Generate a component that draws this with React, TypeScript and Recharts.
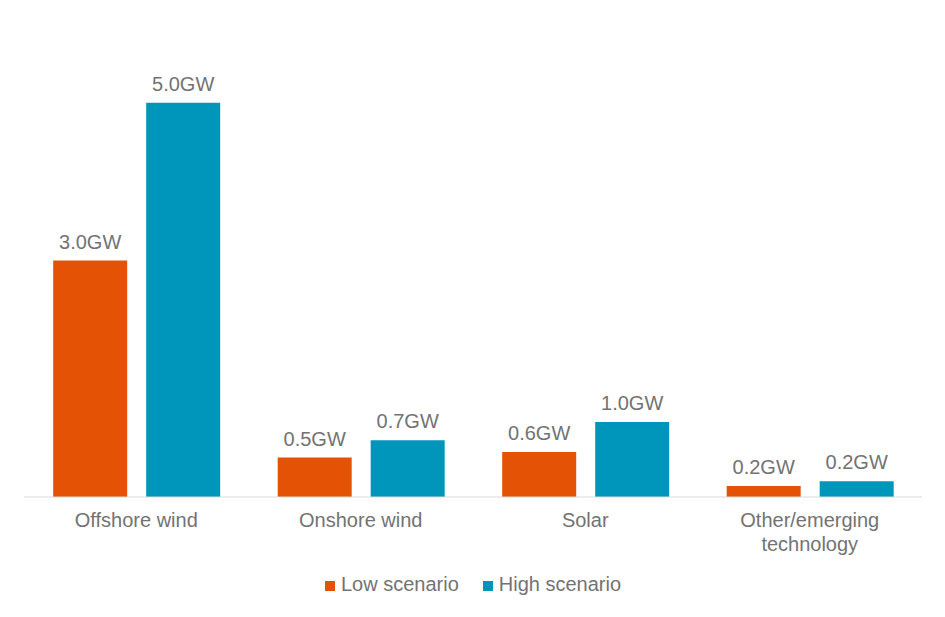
import { BarChart, Bar, XAxis, YAxis, Legend, LabelList } from "recharts";

const categories = ["Offshore wind", "Onshore wind", "Solar", "Other/emerging\ntechnology"];
const lowValues = [3.0, 0.5, 0.57, 0.14];
const highValues = [5.0, 0.72, 0.95, 0.2];
const lowLabels = ["3.0GW", "0.5GW", "0.6GW", "0.2GW"];
const highLabels = ["5.0GW", "0.7GW", "1.0GW", "0.2GW"];
const seriesOrder = ["low", "high"];

const data = categories.map((name, i) => ({
  name,
  low: lowValues[i],
  high: highValues[i],
  lowLabel: lowLabels[i],
  highLabel: highLabels[i],
}));

const TEXT = "#737373";
const FONT = "'Liberation Sans', Arial, sans-serif";
const FS = 20;

function CategoryTick({ x, y, payload }: any) {
  const lines = String(payload.value).split("\n");
  return (
    <text x={x} y={y} textAnchor="middle" fill={TEXT} fontSize={FS} fontFamily={FONT}>
      {lines.map((l, i) => (
        <tspan key={i} x={x} dy={i === 0 ? 22 : 24}>
          {l}
        </tspan>
      ))}
    </text>
  );
}

export default function App() {
  return (
    <div style={{ position: "absolute", left: 0, top: 0, background: "#fff" }}>
      <BarChart
        width={945}
        height={617}
        data={data}
        margin={{ top: 24, right: 23, left: 24, bottom: 0 }}
        barCategoryGap="13%"
        barGap={19}
      >
        <XAxis
          dataKey="name"
          tickLine={false}
          axisLine={{ stroke: "#d9d9d9" }}
          tick={<CategoryTick />}
          interval={0}
          height={76}
        />
        <YAxis hide domain={[0, 6]} />
        <Legend
          verticalAlign="bottom"
          height={44}
          iconType="square"
          iconSize={10}
          itemSorter={(item: any) => seriesOrder.indexOf(item.dataKey)}
          wrapperStyle={{ fontFamily: FONT, fontSize: FS, paddingLeft: 12 }}
          formatter={(v: string) => <span style={{ color: TEXT, marginLeft: 2, marginRight: 14 }}>{v}</span>}
        />
        <Bar dataKey="low" name="Low scenario" fill="#E35205" isAnimationActive={false}>
          <LabelList dataKey="lowLabel" position="top" offset={12} fill={TEXT} fontSize={FS} fontFamily={FONT} />
        </Bar>
        <Bar dataKey="high" name="High scenario" fill="#0096BB" isAnimationActive={false}>
          <LabelList dataKey="highLabel" position="top" offset={12} fill={TEXT} fontSize={FS} fontFamily={FONT} />
        </Bar>
      </BarChart>
    </div>
  );
}
